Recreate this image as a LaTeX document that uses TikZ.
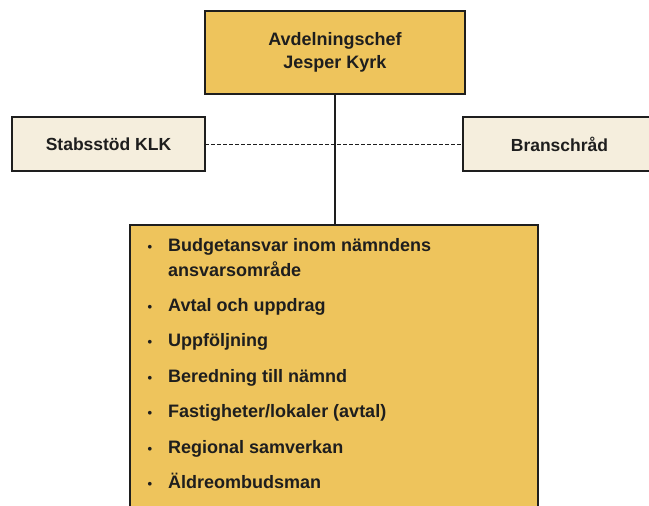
\documentclass[tikz,border=0pt]{standalone}
\usepackage{fontspec}
\setmainfont{Liberation Sans}
\definecolor{gold}{HTML}{EEC45C}
\definecolor{cream}{HTML}{F5EEDD}
\definecolor{ink}{HTML}{1E1E1E}
\tikzset{
  box/.style={draw=ink, line width=1.3pt, outer sep=0pt, inner sep=0pt, font=\fontsize{18}{23}\selectfont\bfseries, text=ink, align=center},
  goldbox/.style={box, fill=gold},
  creambox/.style={box, fill=cream, font=\fontsize{17.5}{23}\selectfont\bfseries},
  item/.style={anchor=base west, inner sep=0pt, font=\fontsize{18}{23}\selectfont\bfseries, text=ink},
  dot/.style={anchor=base, inner sep=0pt, font=\fontsize{13}{14}\selectfont\bfseries, text=ink},
  link/.style={draw=ink, line width=1.2pt},
  dashlink/.style={draw=ink, line width=1pt, dash pattern=on 4pt off 2pt}
}
\begin{document}
\begin{tikzpicture}[x=1pt, y=-1pt]
\useasboundingbox[fill=white] (0,0) rectangle (649,506);
% top box
\node[goldbox, minimum width=260pt, minimum height=83pt] (chef) at (335,52.5) {Avdelningschef\\Jesper Kyrk};
% side boxes
\node[creambox, minimum width=193pt, minimum height=54pt] (stab) at (108.5,144) {Stabsstöd KLK};
\node[creambox, minimum width=193pt, minimum height=54pt] (bransch) at (559.5,144) {Branschråd};
% bottom box
\node[goldbox, minimum width=408pt, minimum height=300pt] (list) at (334,375) {};
% connectors
\draw[dashlink] (stab.east) -- (bransch.west);
\draw[link] (chef.south) -- (chef.south |- list.north);
% items
\node[dot] (b1) at (150,251) {•};
\node[item] (t1) at (168,251) {Budgetansvar inom nämndens};
\node[item] (t1b) at (168,276) {ansvarsområde};
\node[dot] (b2) at (150,311) {•};
\node[item] (t2) at (168,311) {Avtal och uppdrag};
\node[dot] (b3) at (150,346.5) {•};
\node[item] (t3) at (168,346.5) {Uppföljning};
\node[dot] (b4) at (150,382) {•};
\node[item] (t4) at (168,382) {Beredning till nämnd};
\node[dot] (b5) at (150,417) {•};
\node[item] (t5) at (168,417) {Fastigheter/lokaler (avtal)};
\node[dot] (b6) at (150,453) {•};
\node[item] (t6) at (168,453) {Regional samverkan};
\node[dot] (b7) at (150,488) {•};
\node[item] (t7) at (168,488) {Äldreombudsman};
\end{tikzpicture}
\end{document}
